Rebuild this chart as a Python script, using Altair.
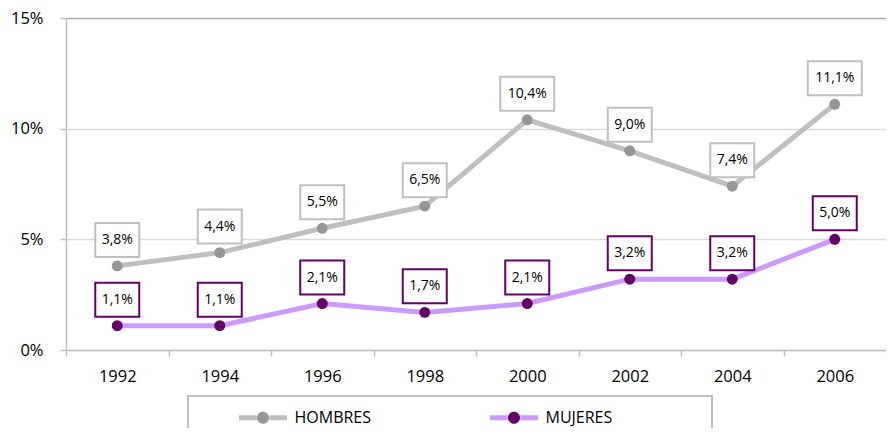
import altair as alt
import pandas as pd

years = ["1992", "1994", "1996", "1998", "2000", "2002", "2004", "2006"]
hombres = [3.8, 4.4, 5.5, 6.5, 10.4, 9.0, 7.4, 11.1]
mujeres = [1.1, 1.1, 2.1, 1.7, 2.1, 3.2, 3.2, 5.0]
series = ["HOMBRES", "MUJERES"]
y_ticks = [0, 5, 10, 15]

rows = []
for s, vals in zip(series, [hombres, mujeres]):
    for yr, v in zip(years, vals):
        rows.append({"year": yr, "series": s, "value": v,
                     "label": f"{v:.1f}%".replace(".", ",")})
df = pd.DataFrame(rows)

line_colors = ["#bfbfbf", "#cc99ff"]
point_colors = ["#969696", "#660066"]
box_colors = ["#bfbfbf", "#660066"]
FONT = "Open Sans"
LABEL_OFF = -26

x = alt.X("year:O", sort=years, title=None,
          scale=alt.Scale(paddingInner=0, paddingOuter=0),
          axis=alt.Axis(labelAngle=0, tickBand="extent", grid=False,
                        domainColor="#bfbfbf", tickColor="#bfbfbf",
                        domainWidth=1.5, tickWidth=1.5, tickSize=6,
                        labelPadding=12, labelFontSize=16.5, labelFont=FONT,
                        labelColor="#000000"))
y = alt.Y("value:Q", title=None,
          scale=alt.Scale(domain=[0, 15], nice=False, zero=True),
          axis=alt.Axis(values=y_ticks, labelExpr="datum.value + '%'",
                        grid=True,
                        gridColor={"condition": {"test": "datum.value === 15", "value": "#a6a6a6"},
                                   "value": "#d9d9d9"},
                        gridWidth=1.5,
                        domainColor="#bfbfbf", domainWidth=1.5,
                        tickColor="#bfbfbf", tickWidth=1.5, tickSize=6,
                        labelPadding=17, labelFontSize=16.5, labelFont=FONT,
                        labelColor="#000000"))

common_leg = dict(orient="none", legendX=122, legendY=378, direction="horizontal",
                  title=" ", titleOrient="right", titlePadding=91,
                  symbolSize=400, symbolStrokeWidth=5,
                  labelFont=FONT, labelFontSize=16, padding=9,
                  columnPadding=76, labelOffset=19, symbolOffset=53.5)

legA = alt.Legend(symbolType="M-2.4,0H-0.62M0.62,0H2.4", labelColor="#000000",
                  strokeColor="#bfbfbf",
                  **common_leg)
legB = alt.Legend(symbolType="M-0.6,0A0.6,0.6 0 1,0 0.6,0A0.6,0.6 0 1,0 -0.6,0Z",
                  symbolStrokeColor="transparent", labelOpacity=0,
                  **common_leg)

base = alt.Chart(df)

lines = base.mark_line(strokeWidth=5).encode(
    x=x, y=y,
    stroke=alt.Stroke("series:N", scale=alt.Scale(range=line_colors), legend=legA))

points = base.mark_circle(size=120, opacity=1).encode(
    x=x, y=y,
    fill=alt.Fill("series:N", scale=alt.Scale(domain=series, range=point_colors), legend=legB))

layers = [lines, points]
for i, s in enumerate(series):
    for n, w in [(4, 44), (5, 54)]:
        layers.append(
            base.transform_filter(f"datum.series == '{s}' && length(datum.label) == {n}")
            .mark_rect(width=w, height=34, yOffset=LABEL_OFF, fill="white",
                       stroke=box_colors[i], strokeWidth=2)
            .encode(x=x, y=y))

texts = base.mark_text(yOffset=LABEL_OFF, fontSize=14, font=FONT, color="#000000",
                       baseline="middle", align="center").encode(x=x, y=y, text="label:N")
layers.append(texts)

chart = alt.layer(*layers).properties(
    width=820, height=332,
    padding={"left": 58, "top": 10, "right": 0, "bottom": 78},
    autosize=alt.AutoSizeParams(type="none"),
).configure_view(stroke=None).configure_legend(strokeWidth=2)

chart.save("out.html", embed_options={"renderer": "svg", "actions": False})
